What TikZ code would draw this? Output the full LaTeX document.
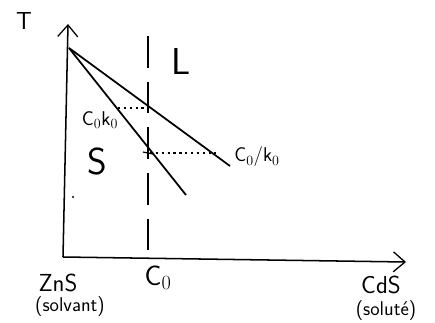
\documentclass[tikz,border=0pt]{standalone}
\usepackage{tikz}
\usetikzlibrary{arrows.meta}

\begin{document}
\begin{tikzpicture}[x=0.03cm, y=-0.03cm,
    every node/.style={font=\sffamily, inner sep=0pt},
    axis/.style={line width=1.3pt, -{Straight Barb[length=3.5mm, width=6mm, line width=1.1pt]}},
    curve/.style={line width=1.5pt},
    coline/.style={line width=1pt, dash pattern=on 27pt off 12pt},
    tieline/.style={line width=1pt, dash pattern=on 2pt off 3pt},
    huge/.style={font=\sffamily\fontsize{32}{34}\selectfont},
    big/.style={font=\sffamily\fontsize{24}{26}\selectfont},
    mid/.style={font=\sffamily\fontsize{21}{23}\selectfont},
    small/.style={font=\sffamily\fontsize{17}{19}\selectfont}
]
\useasboundingbox (0,0) rectangle (435,322);
% axes
\coordinate (origin) at (63,257);
\coordinate (ytip) at (68,24);
\coordinate (xtip) at (406,262);
\draw[axis] (origin) -- (ytip);
\draw[axis] (origin) -- (xtip);
% liquidus and solidus
\coordinate (melt) at (69,48);
\coordinate (liqend) at (230,166);
\coordinate (solend) at (186,195);
\draw[curve] (melt) -- (liqend);
\draw[curve] (melt) -- (solend);
% composition C0
\coordinate (cotop) at (148,36);
\coordinate (cobot) at (148,256);
\draw[coline] (cotop) -- (cobot);
% tie lines
\coordinate (lstart) at (118,108);
\coordinate (lend) at (146,108);
\coordinate (sstart) at (150,153);
\coordinate (send) at (216,153);
\draw[tieline] (lstart) -- (lend);
\draw[tieline] (sstart) -- (send);
\draw[line width=1pt] (143,152) -- (153,154);
% labels
\node[mid] (tlbl) at (24,21) {T};
\node[huge] (llbl) at (181,61) {L};
\node[huge] (slbl) at (97,161) {S};
\node[small] (ckl) at (100,120) {C$_0$k$_0$};
\node[small] (cokl) at (257,157) {C$_0$/k$_0$};
\node[big] (colbl) at (158,278) {C$_0$};
\node[mid] (znslbl) at (58,283) {ZnS};
\node[small] (solvlbl) at (70,307) {(solvant)};
\node[mid] (cdslbl) at (381,285) {CdS};
\node[small] (solulbl) at (386,311) {(solut\'e)};
\fill (73,197) circle (1.2);
\end{tikzpicture}
\end{document}
